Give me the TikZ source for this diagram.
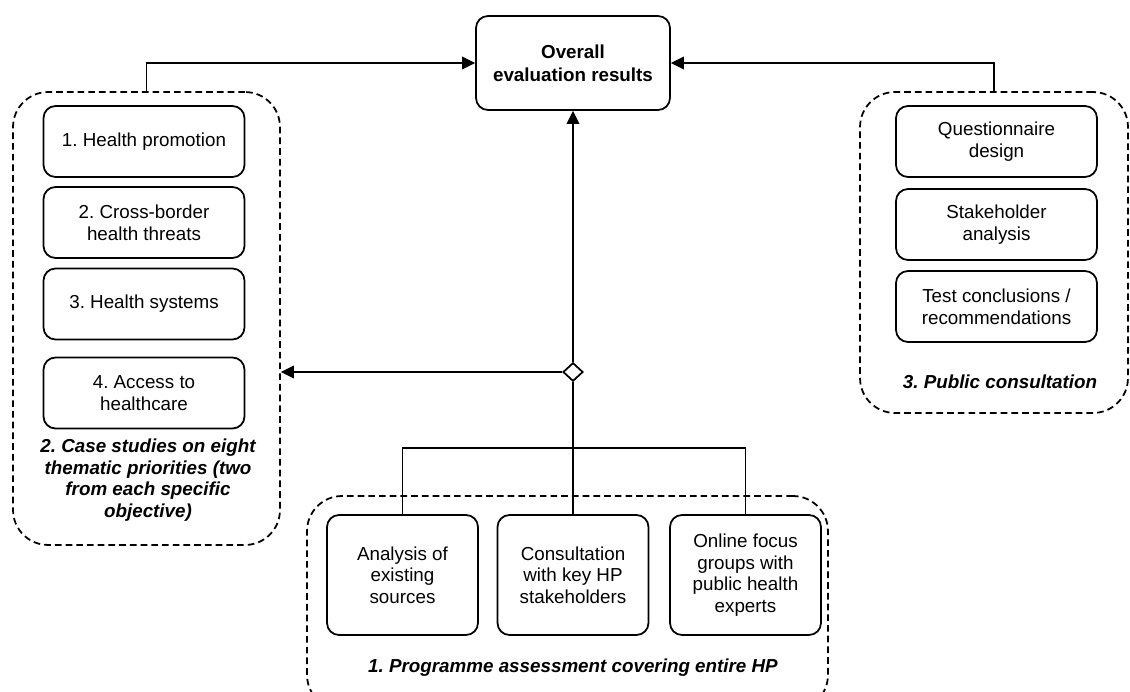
\documentclass[tikz,border=0pt]{standalone}
\usepackage{fontspec}
\setmainfont{Liberation Sans}
\usetikzlibrary{shapes.geometric,arrows.meta}
\frenchspacing

\begin{document}
\begin{tikzpicture}[x=0.02cm, y=-0.02cm,
  every node/.style={align=center, font=\fontsize{10.7}{12.3}\selectfont},
  box/.style={draw, line width=1pt, rounded corners=0.24cm, minimum width=4.02cm, minimum height=1.42cm, inner sep=1pt},
  task/.style={box, minimum width=3.02cm, minimum height=2.4cm},
  group/.style={draw, line width=1pt, dash pattern=on 3.8pt off 2.3pt, rounded corners=0.7cm},
  grouplabel/.style={font=\fontsize{10.7}{12.3}\selectfont\bfseries\itshape},
  hub/.style={draw, diamond, line width=1pt, fill=white, inner sep=0pt, minimum width=0.4cm, minimum height=0.37cm},
  link/.style={line width=1.1pt},
  tip/.style={-{Triangle[length=0.26cm, width=0.25cm]}}]
  \useasboundingbox (0, 0) rectangle (1130, 692);
  \clip (0, 0) rectangle (1130, 692);

  % Overall result at the top
  \node[box, font=\fontsize{10.7}{13}\selectfont\bfseries, minimum width=3.88cm, minimum height=1.88cm] (overall) at (573, 63) {Overall\\evaluation results};

  % Three dashed groups
  \node[group, minimum width=5.34cm, minimum height=9.06cm] (casegrp) at (146.5, 318.5) {};
  \node[group, minimum width=5.36cm, minimum height=6.42cm] (pubgrp) at (994, 252.5) {};
  \node[group, minimum width=10.42cm, minimum height=4.28cm] (proggrp) at (567.5, 603) {};

  % Case studies
  \node[box] (promo) at (144, 141.5) {1. Health promotion};
  \node[box] (threats) at (144, 222.5) {2. Cross-border\\health threats};
  \node[box] (systems) at (144, 304) {3. Health systems};
  \node[box] (access) at (144, 393) {4. Access to\\healthcare};
  \node[grouplabel] (caselbl) at (148, 480) {2. Case studies on eight\\thematic priorities (two\\from each specific\\objective)};

  % Public consultation
  \node[box] (quest) at (996.5, 141.5) {Questionnaire\\design};
  \node[box] (stake) at (996.5, 224.5) {Stakeholder\\analysis};
  \node[box] (concl) at (996.5, 306.5) {Test conclusions /\\recommendations};
  \node[grouplabel] (publbl) at (1000, 382) {3. Public consultation};

  % Programme assessment
  \node[task] (sources) at (402.5, 575) {Analysis of\\existing\\sources};
  \node[task] (consult) at (573, 575) {Consultation\\with key HP\\stakeholders};
  \node[task] (focus) at (745.5, 575) {Online focus\\groups with\\public health\\experts};
  \node[grouplabel] (proglbl) at (573, 668) {1. Programme assessment covering entire HP};

  % Connectors
  \node[hub] (hub) at (573, 372) {};
  \coordinate (split) at (573, 448);
  \draw[link, tip] (casegrp.north) |- (overall.west);
  \draw[link, tip] (pubgrp.north) |- (overall.east);
  \draw[link, tip] (hub.north) -- (overall.south);
  \draw[link, tip] (hub.west) -- (hub.west -| casegrp.east);
  \draw[link] (hub.south) -- (consult.north);
  \draw[link] (sources.north) |- (split) -| (focus.north);
\end{tikzpicture}
\end{document}
